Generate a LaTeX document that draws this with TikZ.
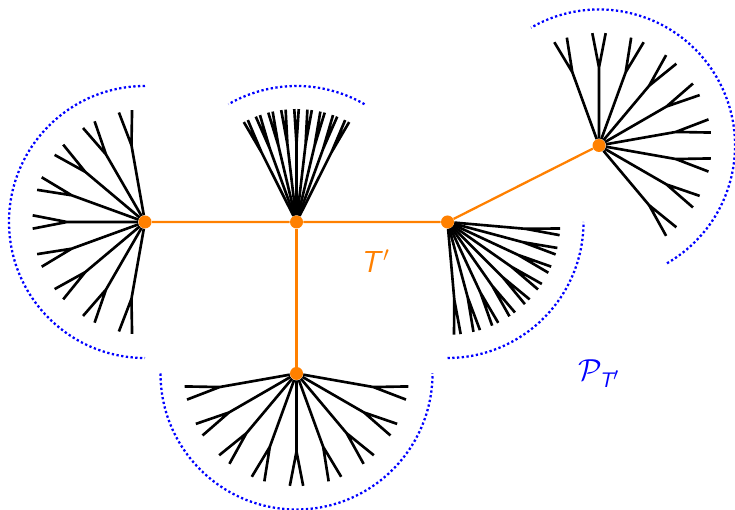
\documentclass[tikz,border=0pt]{standalone}
\usepackage{amsmath,amssymb}
\usetikzlibrary{calc,backgrounds}
\tikzset{
  tnode/.style={circle,fill=orange,inner sep=0pt,minimum size=7.4pt},
  tedge/.style={orange,line width=1.3pt},
  pedge/.style={black,line width=1.5pt},
  parc/.style={blue,line width=1.3pt,dash pattern=on 1.3pt off 1.4pt},
  tlbl/.style={orange,font=\LARGE},
  plbl/.style={blue,font=\LARGE},
}
\begin{document}
\begin{tikzpicture}
  \useasboundingbox (0,0) rectangle (14.7,10.2);
  % ---- the tree T' ----
  \node[tnode] (A) at (2.90,5.76) {};
  \node[tnode] (B) at (5.93,5.76) {};
  \node[tnode] (C) at (8.95,5.76) {};
  \node[tnode] (D) at (11.98,7.29) {};
  \node[tnode] (E) at (5.93,2.73) {};
  \node[tlbl] (tlab) at (7.50,4.98) {\textsf{\itshape T}$'$};
  \node[plbl] (plab) at (11.98,2.72) {$\mathcal{P}_{\textsf{\itshape T}'}$};
  \begin{scope}[on background layer]
    % ---- pendant trees with their arcs ----
    \foreach \v/\c/\s in {A/180/1,B/90/0.3333,C/-45/0.5,D/30/1,E/270/1}{
      \foreach \k in {-4,...,4}{
        \pgfmathsetmacro{\a}{\c+20*\s*\k}
        \pgfmathsetmacro{\d}{11*\s}
        \coordinate (\v-b\k) at ($(\v)+(\a:1.56)$);
        \coordinate (\v-l\k) at ($(\v-b\k)+(\a+\d:0.7)$);
        \coordinate (\v-r\k) at ($(\v-b\k)+(\a-\d:0.7)$);
        \draw[pedge] (\v) -- (\v-b\k) (\v-l\k) -- (\v-b\k) -- (\v-r\k);
      }
      \pgfmathsetmacro{\h}{90*\s}
      \draw[parc] ($(\v)+(\c-\h:2.72)$) arc[start angle=\c-\h,end angle=\c+\h,radius=2.72];
    }
    % ---- edges of T' ----
    \draw[tedge] (A) -- (B) -- (C) -- (D);
    \draw[tedge] (B) -- (E);
  \end{scope}
\end{tikzpicture}
\end{document}
